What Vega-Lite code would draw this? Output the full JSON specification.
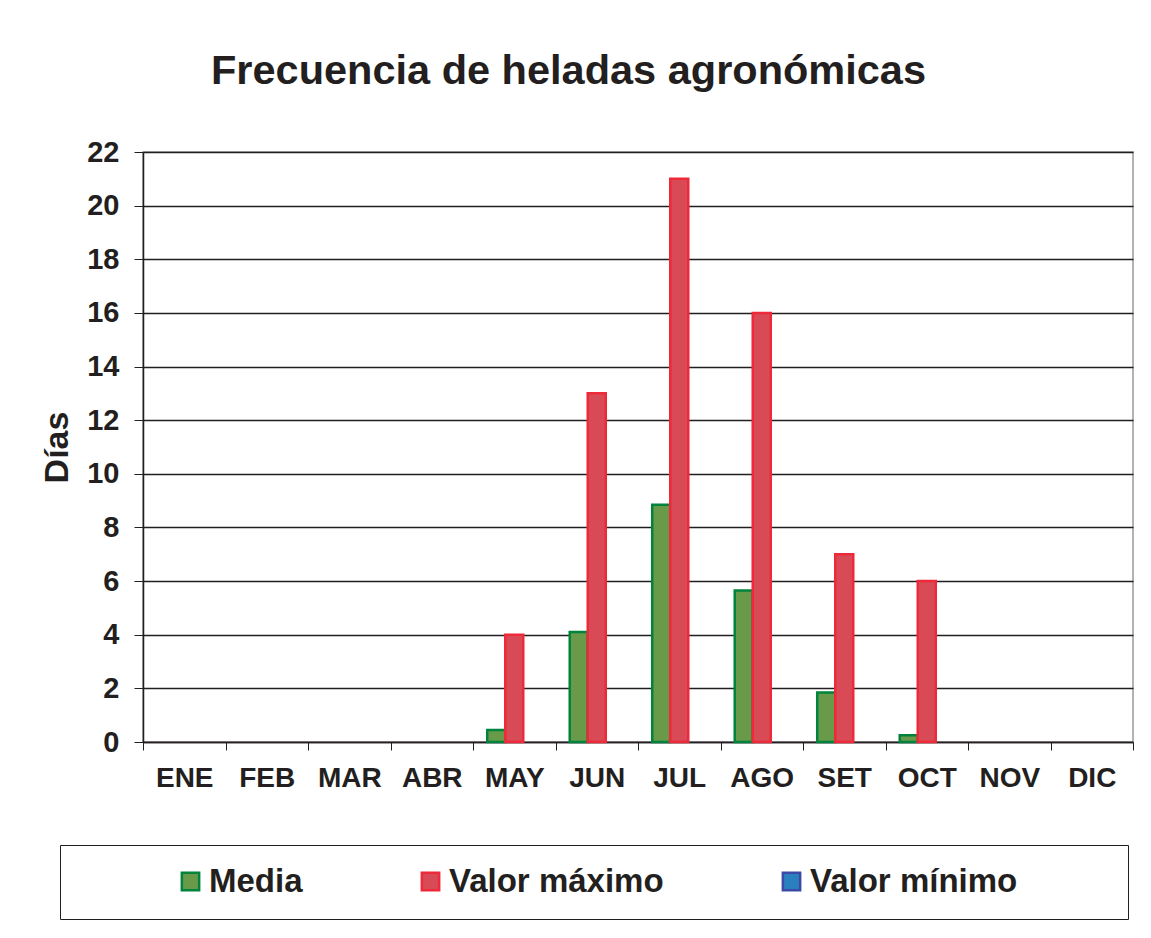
{
  "$schema": "https://vega.github.io/schema/vega-lite/v6.json",
  "autosize": "none",
  "width": 990,
  "height": 590,
  "padding": {"left": 143, "top": 152, "right": 18, "bottom": 196},
  "background": "#ffffff",
  "title": {
    "text": "Frecuencia de heladas agronómicas",
    "anchor": "start",
    "frame": "group",
    "dx": 68,
    "offset": 46,
    "font": "Liberation Sans",
    "fontSize": 41.5,
    "fontWeight": "bold",
    "color": "#231f20"
  },
  "data": {
    "values": [
      {"mes": "ENE", "serie": "Media", "dias": 0},
      {"mes": "ENE", "serie": "Valor máximo", "dias": 0},
      {"mes": "ENE", "serie": "Valor mínimo", "dias": 0},
      {"mes": "FEB", "serie": "Media", "dias": 0},
      {"mes": "FEB", "serie": "Valor máximo", "dias": 0},
      {"mes": "FEB", "serie": "Valor mínimo", "dias": 0},
      {"mes": "MAR", "serie": "Media", "dias": 0},
      {"mes": "MAR", "serie": "Valor máximo", "dias": 0},
      {"mes": "MAR", "serie": "Valor mínimo", "dias": 0},
      {"mes": "ABR", "serie": "Media", "dias": 0},
      {"mes": "ABR", "serie": "Valor máximo", "dias": 0},
      {"mes": "ABR", "serie": "Valor mínimo", "dias": 0},
      {"mes": "MAY", "serie": "Media", "dias": 0.45},
      {"mes": "MAY", "serie": "Valor máximo", "dias": 4},
      {"mes": "MAY", "serie": "Valor mínimo", "dias": 0},
      {"mes": "JUN", "serie": "Media", "dias": 4.1},
      {"mes": "JUN", "serie": "Valor máximo", "dias": 13},
      {"mes": "JUN", "serie": "Valor mínimo", "dias": 0},
      {"mes": "JUL", "serie": "Media", "dias": 8.85},
      {"mes": "JUL", "serie": "Valor máximo", "dias": 21},
      {"mes": "JUL", "serie": "Valor mínimo", "dias": 0},
      {"mes": "AGO", "serie": "Media", "dias": 5.65},
      {"mes": "AGO", "serie": "Valor máximo", "dias": 16},
      {"mes": "AGO", "serie": "Valor mínimo", "dias": 0},
      {"mes": "SET", "serie": "Media", "dias": 1.85},
      {"mes": "SET", "serie": "Valor máximo", "dias": 7},
      {"mes": "SET", "serie": "Valor mínimo", "dias": 0},
      {"mes": "OCT", "serie": "Media", "dias": 0.25},
      {"mes": "OCT", "serie": "Valor máximo", "dias": 6},
      {"mes": "OCT", "serie": "Valor mínimo", "dias": 0},
      {"mes": "NOV", "serie": "Media", "dias": 0},
      {"mes": "NOV", "serie": "Valor máximo", "dias": 0},
      {"mes": "NOV", "serie": "Valor mínimo", "dias": 0},
      {"mes": "DIC", "serie": "Media", "dias": 0},
      {"mes": "DIC", "serie": "Valor máximo", "dias": 0},
      {"mes": "DIC", "serie": "Valor mínimo", "dias": 0}
    ]
  },
  "mark": {"type": "bar", "strokeJoin": "miter"},
  "encoding": {
    "x": {
      "field": "mes",
      "type": "nominal",
      "sort": ["ENE","FEB","MAR","ABR","MAY","JUN","JUL","AGO","SET","OCT","NOV","DIC"],
      "scale": {"paddingInner": 0, "paddingOuter": 0},
      "axis": {
        "title": null,
        "labelAngle": 0,
        "tickBand": "extent",
        "tickSize": 8,
        "tickColor": "#231f20",
        "domainColor": "#231f20",
        "domainWidth": 1.5,
        "labelPadding": 14,
        "labelFont": "Liberation Sans",
        "labelFontSize": 28,
        "labelFontWeight": "bold",
        "labelColor": "#231f20"
      }
    },
    "xOffset": {
      "field": "serie",
      "type": "nominal",
      "sort": ["Media", "Valor máximo", "Valor mínimo"],
      "scale": {"paddingInner": 0, "paddingOuter": 0.79}
    },
    "y": {
      "field": "dias",
      "type": "quantitative",
      "scale": {"domain": [0, 22], "nice": false},
      "axis": {
        "title": "Días",
        "values": [0,2,4,6,8,10,12,14,16,18,20,22],
        "grid": true,
        "gridColor": "#231f20",
        "gridWidth": 1.3,
        "gridOpacity": 1,
        "tickSize": 9,
        "tickColor": "#231f20",
        "domainColor": "#231f20",
        "domainWidth": 1.5,
        "labelPadding": 15,
        "labelFont": "Liberation Sans",
        "labelFontSize": 29,
        "labelFontWeight": "bold",
        "labelColor": "#231f20",
        "titleFont": "Liberation Sans",
        "titleFontSize": 34,
        "titleFontWeight": "bold",
        "titleColor": "#231f20",
        "titlePadding": 12
      }
    },
    "fill": {
      "field": "serie",
      "type": "nominal",
      "sort": ["Media", "Valor máximo", "Valor mínimo"],
      "scale": {
        "domain": ["Media", "Valor máximo", "Valor mínimo"],
        "range": ["#689a4a", "#d84a55", "#2a7fbf"]
      },
      "legend": {
        "title": " ",
        "labelExpr": "datum.value === 'Valor mínimo' ? datum.label + '\u2800\u00a0\u00a0\u2800\u2800' : datum.label"
      }
    },
    "stroke": {
      "field": "serie",
      "type": "nominal",
      "sort": ["Media", "Valor máximo", "Valor mínimo"],
      "scale": {
        "domain": ["Media", "Valor máximo", "Valor mínimo"],
        "range": ["#00843d", "#ee2a3a", "#3a4aa6"]
      },
      "legend": {
        "title": " ",
        "labelExpr": "datum.value === 'Valor mínimo' ? datum.label + '\u2800\u00a0\u00a0\u2800\u2800' : datum.label"
      }
    },
    "strokeWidth": {
      "condition": {"test": "datum.dias == 0", "value": 0},
      "value": 2.5
    }
  },
  "config": {
    "view": {"stroke": "#9a9a9a", "strokeWidth": 1.5},
    "legend": {
      "titleOrient": "left",
      "titleFontSize": 32,
      "titlePadding": 94,
      "orient": "none",
      "legendX": -83,
      "legendY": 693,
      "direction": "horizontal",
      "strokeColor": "#231f20",
      "padding": 20,
      "columnPadding": 111,
      "gridAlign": "none",
      "symbolType": "square",
      "symbolSize": 300,
      "symbolStrokeWidth": 2.5,
      "labelFont": "Liberation Sans",
      "labelFontSize": 33,
      "labelFontWeight": "bold",
      "labelColor": "#231f20",
      "labelOffset": 2,
      "labelLimit": 600
    }
  }
}
